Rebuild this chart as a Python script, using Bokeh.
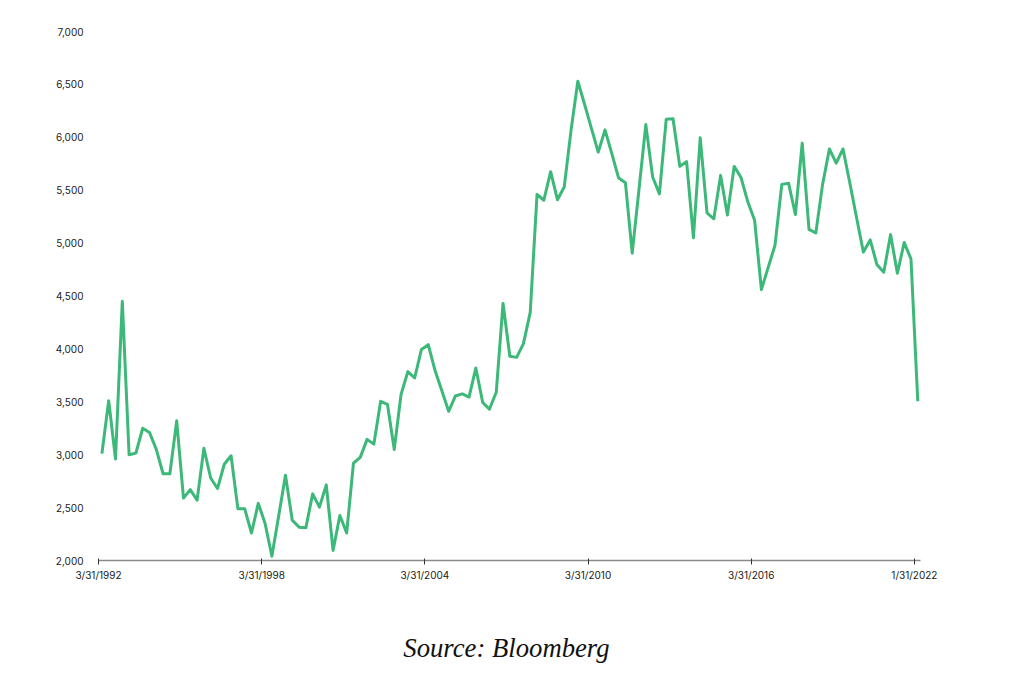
from bokeh.plotting import figure
from bokeh.models import FixedTicker, NumeralTickFormatter, Label
from bokeh.embed import file_html
from bokeh.resources import INLINE

values = [
    3010, 3510, 2960, 4450, 3000, 3015, 3250, 3210, 3050, 2820,
    2820, 3320, 2590, 2670, 2570, 3060, 2780, 2680, 2910, 2990,
    2490, 2490, 2260, 2540, 2350, 2040, 2420, 2805, 2380, 2315,
    2310, 2630, 2505, 2715, 2095, 2425, 2260, 2920, 2975, 3145,
    3100, 3505, 3475, 3050, 3570, 3785, 3725, 3995, 4040, 3795,
    3605, 3410, 3555, 3575, 3545, 3820, 3495, 3430, 3590, 4430,
    3930, 3920, 4050, 4345, 5460, 5405, 5675, 5410, 5530, 6065,
    6530, 6310, 6085, 5860, 6070, 5845, 5615, 5570, 4905, 5510,
    6120, 5625, 5465, 6170, 6175, 5725, 5770, 5050, 5995, 5285,
    5230, 5640, 5265, 5725, 5620, 5390, 5215, 4560, 4770, 4980,
    5555, 5565, 5270, 5945, 5130, 5095, 5555, 5890, 5755, 5890,
    5570, 5240, 4915, 5030, 4795, 4725, 5080, 4715, 5005, 4850,
    3505,
]
x_index = list(range(len(values)))

tick_labels = ["3/31/1992", "3/31/1998", "3/31/2004", "3/31/2010", "3/31/2016", "1/31/2022"]
tick_index = [0, 24, 48, 72, 96, 120]
y_ticks = [2000, 2500, 3000, 3500, 4000, 4500, 5000, 5500, 6000, 6500, 7000]
source_text = "Source: Bloomberg"

tick_pos = [i - 0.5 for i in tick_index]

# plot-area geometry (page pixels)
X0, X1 = -0.5, 120.4           # axis extent in data units
AX_L, AX_R = 98, 920           # axis line from/to
Y_TOP_PX, Y_BOT_PX = 31, 560   # 7,000 and 2,000 levels
F_L, F_R, F_T, F_B = 40, 990, 10, 666   # frame edges
SRC_PX = 647.5                 # centre of the source note
PXU = (AX_R - AX_L) / (X1 - X0)
PYU = (Y_BOT_PX - Y_TOP_PX) / 5000.0

x_start = X0 - (AX_L - F_L) / PXU
x_end = X1 + (F_R - AX_R) / PXU
y_end = 7000 + (Y_TOP_PX - F_T) / PYU
y_start = 2000 - (F_B - Y_BOT_PX) / PYU

p = figure(frame_width=F_R - F_L, frame_height=F_B - F_T, output_backend="svg",
           toolbar_location=None, x_range=(x_start, x_end), y_range=(y_start, y_end),
           min_border_left=F_L, min_border_right=0, min_border_top=F_T, min_border_bottom=0)
p.outline_line_color = None
p.xgrid.visible = False
p.ygrid.visible = False
p.background_fill_color = "white"
p.border_fill_color = "white"

p.line(x_index, values, line_color="#3cb878", line_width=3, line_join="round")

# x axis drawn at the 2,000 level
xa = p.xaxis[0]
xa.fixed_location = 2000
xa.bounds = (X0, X1)
xa.ticker = FixedTicker(ticks=tick_pos)
xa.major_label_overrides = {t: l for t, l in zip(tick_pos, tick_labels)}
xa.minor_tick_line_color = None
xa.axis_line_color = "#8a8a8a"
xa.axis_line_width = 1.5
xa.major_tick_line_color = "#333333"
xa.major_tick_in = 2
xa.major_tick_out = 4
xa.major_label_standoff = 4
xa.major_label_text_font = "Inter"
xa.major_label_text_font_size = "10px"
xa.major_label_text_color = "#1a1a1a"

# y axis drawn at the left end of the x axis
ya = p.yaxis[0]
ya.fixed_location = X0
ya.ticker = FixedTicker(ticks=y_ticks)
ya.formatter = NumeralTickFormatter(format="0,0")
ya.axis_line_color = None
ya.major_tick_line_color = None
ya.minor_tick_line_color = None
ya.major_label_standoff = 9
ya.major_label_text_font = "Inter"
ya.major_label_text_font_size = "10px"
ya.major_label_text_color = "#1a1a1a"

# source note below the 2,000 line
src = Label(x=59.5, y=2000 - (SRC_PX - Y_BOT_PX) / PYU, text=source_text,
            text_align="center", text_baseline="middle", text_font="Liberation Serif",
            text_font_style="italic", text_font_size="26.7px", text_color="#111111")
p.add_layout(src)

open("out.html", "w").write(file_html(p, INLINE))
